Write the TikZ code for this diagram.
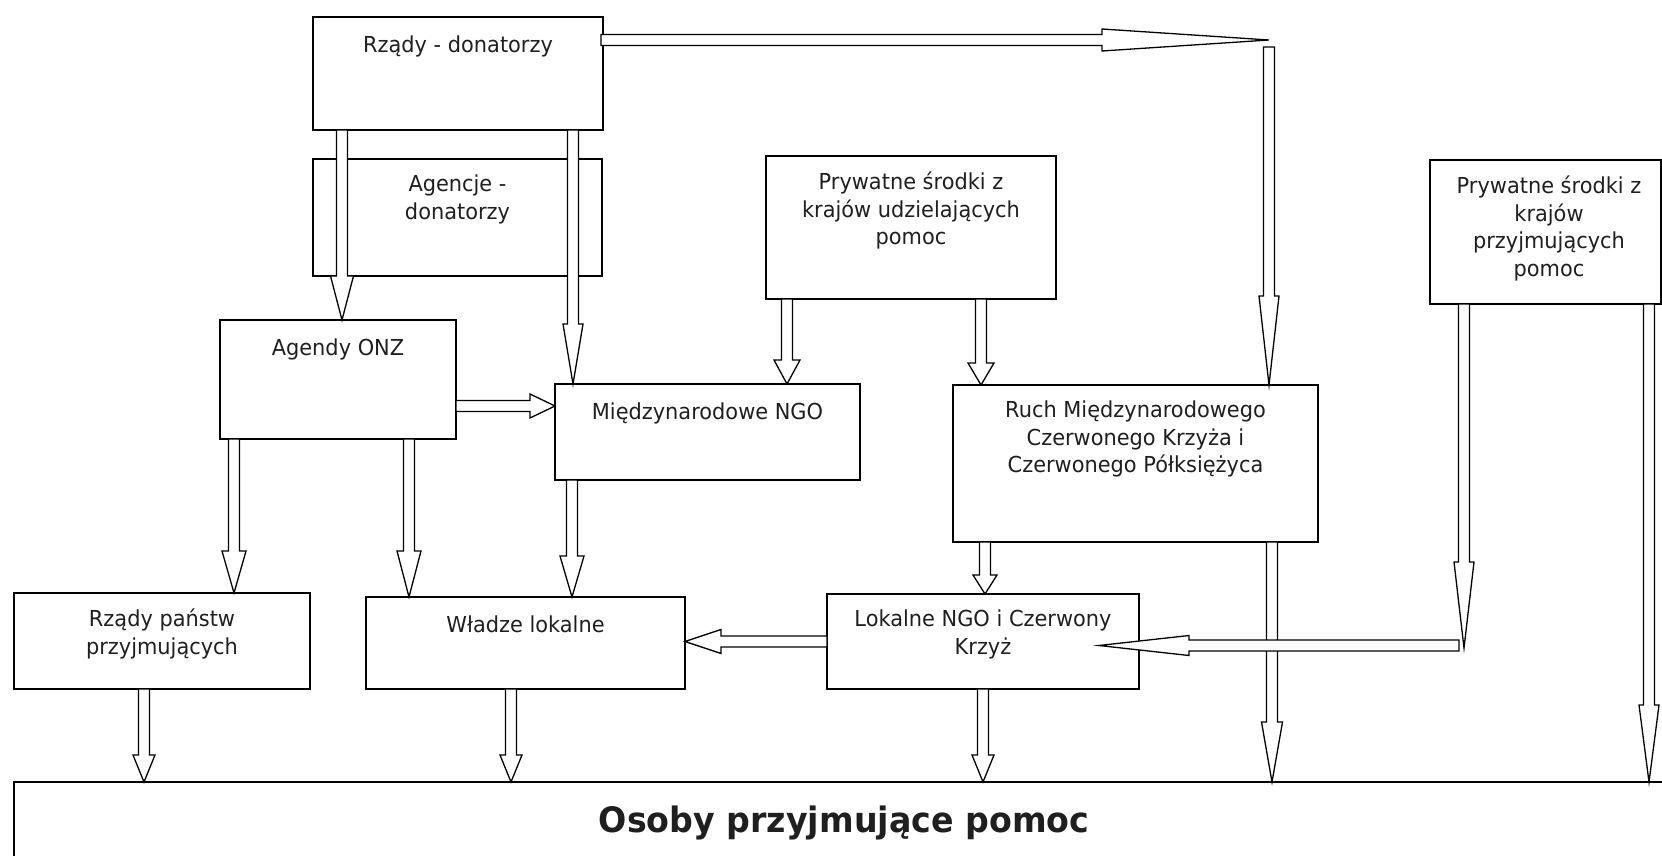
\documentclass[tikz,border=0pt]{standalone}
\usepackage{fontspec}
\setmainfont{DejaVu Sans}[FakeStretch=0.95]
\usetikzlibrary{calc}
\newcommand\boxfont{\fontsize{22}{27.7}\selectfont}
\newcommand\titlefont{\fontsize{35}{42}\selectfont\bfseries}
\newcommand\sw{5.5pt}
% block arrow: #1 start coordinate, #2 tip coordinate, #3 head length, #4 head half-width
\newcommand\barrow[4]{%
  \coordinate (hb) at ($(#2)!#3!(#1)$);
  \draw[arrowline] ($(#1)!\sw!90:(#2)$) -- ($(hb)!\sw!-90:(#1)$) -- ($(hb)!#4!-90:(#1)$)
     -- (#2) -- ($(hb)!#4!90:(#1)$) -- ($(hb)!\sw!90:(#1)$) -- ($(#1)!\sw!-90:(#2)$) -- cycle;
}
\begin{document}
\begin{tikzpicture}[x=1pt,y=-1pt,
  box/.style={draw, line width=1.5pt, rectangle, inner sep=0pt, outer sep=0pt, anchor=north west, fill=white},
  boxtxt/.style={anchor=north, align=center, inner sep=0pt, font=\boxfont, text=black!88, execute at begin node=\strut},
  arrowline/.style={draw, fill=white, line width=1.3pt, line join=miter}]
\useasboundingbox[fill=white] (0,0) rectangle (1662,856);

% boxes
\node[box, minimum width=290pt, minimum height=113pt] (rz) at (313,17) {};
\node[box, minimum width=289pt, minimum height=117pt] (ag) at (313,159) {};
\node[box, minimum width=290pt, minimum height=143pt] (pu) at (766,156) {};
\node[box, minimum width=231pt, minimum height=144pt] (pp) at (1430,160) {};
\node[box, minimum width=236pt, minimum height=119pt] (onz) at (220,320) {};
\node[box, minimum width=305pt, minimum height=96pt] (mngo) at (555,384) {};
\node[box, minimum width=365pt, minimum height=157pt] (ruch) at (953,385) {};
\node[box, minimum width=296pt, minimum height=96pt] (rp) at (14,593) {};
\node[box, minimum width=319pt, minimum height=92pt] (wl) at (366,597) {};
\node[box, minimum width=312pt, minimum height=95pt] (lok) at (827,594) {};
\node[box, minimum width=1686pt, minimum height=118pt] (os) at (14,782) {};

% free ends
\coordinate (c3) at (1269,40);
\coordinate (c4) at (1269,47);
\coordinate (c14) at (1464,648);
\coordinate (c15) at (1459,645.5);

% named anchor points
\coordinate (a1s) at ([xshift=29pt]rz.south west);
\coordinate (a1e) at ([xshift=122pt]onz.north west);
\coordinate (a2s) at ([xshift=260pt]rz.south west);
\coordinate (a2e) at ([xshift=18pt]mngo.north west);
\coordinate (a3s) at ([yshift=-23pt,xshift=-2pt]rz.north east);
\coordinate (a4e) at ([xshift=316pt]ruch.north west);
\coordinate (a5s) at ([xshift=21pt]pu.south west);
\coordinate (a5e) at ([xshift=232pt]mngo.north west);
\coordinate (a6s) at ([xshift=215pt]pu.south west);
\coordinate (a6e) at ([xshift=28pt]ruch.north west);
\coordinate (a7s) at ([yshift=-86pt]onz.north east);
\coordinate (a7e) at ([yshift=-22pt]mngo.north west);
\coordinate (a8s) at ([xshift=14pt]onz.south west);
\coordinate (a8e) at ([xshift=220pt]rp.north west);
\coordinate (a9s) at ([xshift=189pt]onz.south west);
\coordinate (a9e) at ([xshift=43pt]wl.north west);
\coordinate (a10s) at ([xshift=17pt]mngo.south west);
\coordinate (a10e) at ([xshift=206pt]wl.north west);
\coordinate (a11s) at ([xshift=32pt]ruch.south west);
\coordinate (a11e) at ([xshift=158pt]lok.north west);
\coordinate (a12s) at ([xshift=319pt]ruch.south west);
\coordinate (a12e) at ([xshift=1258pt]os.north west);
\coordinate (a13s) at ([yshift=-47.5pt]lok.north west);
\coordinate (a13e) at ([yshift=-44.5pt]wl.north east);
\coordinate (a14s) at ([xshift=34pt]pp.south west);
\coordinate (a15e) at ([xshift=272pt,yshift=-51.5pt]lok.north west);
\coordinate (a16s) at ([xshift=219pt]pp.south west);
\coordinate (a16e) at ([xshift=1635pt]os.north west);
\coordinate (a17s) at ([xshift=130pt]rp.south west);
\coordinate (a17e) at ([xshift=130pt]os.north west);
\coordinate (a18s) at ([xshift=145pt]wl.south west);
\coordinate (a18e) at ([xshift=497pt]os.north west);
\coordinate (a19s) at ([xshift=156pt]lok.south west);
\coordinate (a19e) at ([xshift=969pt]os.north west);

% arrows
\barrow{a1s}{a1e}{44pt}{11.5pt}
\barrow{a2s}{a2e}{60pt}{10pt}
\barrow{a3s}{c3}{167pt}{11pt}
\barrow{c4}{a4e}{89pt}{10pt}
\barrow{a5s}{a5e}{24pt}{13pt}
\barrow{a6s}{a6e}{22pt}{13pt}
\barrow{a7s}{a7e}{25pt}{12pt}
\barrow{a8s}{a8e}{42pt}{12pt}
\barrow{a9s}{a9e}{46pt}{12pt}
\barrow{a10s}{a10e}{41pt}{12pt}
\barrow{a11s}{a11e}{19pt}{12pt}
\barrow{a12s}{a12e}{60pt}{10.5pt}
\barrow{a13s}{a13e}{36pt}{12pt}
\barrow{a14s}{c14}{86pt}{10pt}
\barrow{c15}{a15e}{90pt}{10pt}
\barrow{a16s}{a16e}{77pt}{10pt}
\barrow{a17s}{a17e}{27pt}{11pt}
\barrow{a18s}{a18e}{27pt}{11pt}
\barrow{a19s}{a19e}{27pt}{11pt}

% texts
\node[boxtxt] (rzt) at ([yshift=-15.6pt]rz.north) {Rządy - donatorzy};
\node[boxtxt] (agt) at ([yshift=-15.6pt]ag.north) {Agencje -\\donatorzy};
\node[boxtxt] (put) at ([yshift=-15.6pt]pu.north) {Prywatne środki z\\krajów udzielających\\pomoc};
\node[boxtxt] (ppt) at ([xshift=3.5pt,yshift=-15.6pt]pp.north) {Prywatne środki z\\krajów\\przyjmujących\\pomoc};
\node[boxtxt] (onzt) at ([yshift=-15.6pt]onz.north) {Agendy ONZ};
\node[boxtxt] (mngot) at ([yshift=-15.6pt]mngo.north) {Międzynarodowe NGO};
\node[boxtxt] (rucht) at ([yshift=-15.6pt]ruch.north) {Ruch Międzynarodowego\\Czerwonego Krzyża i\\Czerwonego Półksiężyca};
\node[boxtxt] (rpt) at ([yshift=-15.6pt]rp.north) {Rządy państw\\przyjmujących};
\node[boxtxt] (wlt) at ([yshift=-15.6pt]wl.north) {Władze lokalne};
\node[boxtxt] (lokt) at ([yshift=-15.6pt]lok.north) {Lokalne NGO i Czerwony\\Krzyż};
\node[boxtxt, font=\titlefont] (ost) at ([xshift=830pt,yshift=-20.6pt]os.north west) {Osoby przyjmujące pomoc};
\end{tikzpicture}
\end{document}
